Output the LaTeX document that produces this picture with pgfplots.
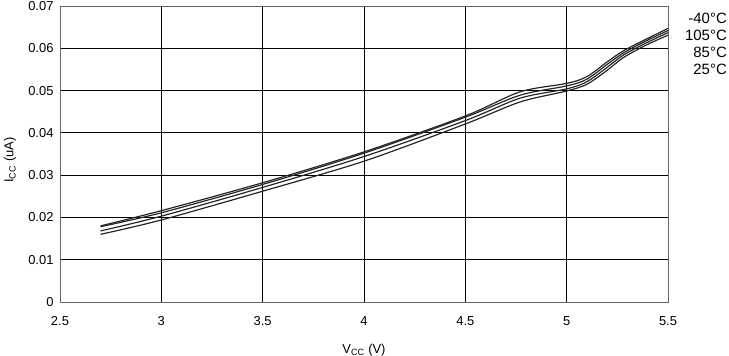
\documentclass[border=0pt]{standalone}
\usepackage{pgfplots}
\pgfplotsset{compat=1.18}
\usepackage{fontspec}
\setmainfont{Liberation Sans}
\begin{document}
\begin{tikzpicture}
\useasboundingbox (-60bp,-54bp) rectangle (669bp,302bp);
\begin{axis}[
  at={(0,0)}, anchor=south west,
  scale only axis, width=608bp, height=296bp,
  xmin=2.5, xmax=5.5, ymin=0, ymax=0.07,
  xtick={2.5,3,3.5,4,4.5,5,5.5},
  ytick={0,0.01,0.02,0.03,0.04,0.05,0.06,0.07},
  scaled y ticks=false,
  grid=major,
  major grid style={black, line width=0.8pt},
  axis line style={gray!80!black, line width=1pt},
  major tick length=0pt,
  tick label style={font=\fontsize{13}{15}\selectfont},
  /pgf/number format/assume math mode=true,
  yticklabel style={/pgf/number format/fixed, /pgf/number format/precision=2, xshift=-3bp},
  xticklabel style={yshift=-11bp},
  clip=false,
]
\pgfplotsset{cur/.style={black!85, line width=1.2pt, no markers, smooth, tension=0.5}}
\addplot[cur] coordinates {(2.7,0.0180)(3.0,0.0216)(3.5,0.0282)(4.0,0.0355)(4.5,0.0440)(4.77,0.0497)(5.0,0.0517)(5.1,0.0533)(5.2,0.0568)(5.28,0.0594)(5.39,0.0621)(5.5,0.0647)};
\addplot[cur] coordinates {(2.7,0.0178)(3.0,0.0211)(3.5,0.0278)(4.0,0.0352)(4.5,0.0437)(4.77,0.0489)(5.0,0.0511)(5.1,0.0527)(5.2,0.0562)(5.28,0.0589)(5.39,0.0617)(5.5,0.0642)};
\addplot[cur] coordinates {(2.7,0.0168)(3.0,0.0203)(3.5,0.0271)(4.0,0.0344)(4.5,0.0429)(4.77,0.0482)(5.0,0.0504)(5.1,0.0521)(5.2,0.0555)(5.28,0.0584)(5.39,0.0612)(5.5,0.0637)};
\addplot[cur] coordinates {(2.7,0.0160)(3.0,0.0194)(3.5,0.0262)(4.0,0.0333)(4.5,0.0421)(4.77,0.0473)(5.0,0.0499)(5.1,0.0515)(5.2,0.0548)(5.28,0.0578)(5.39,0.0607)(5.5,0.0631)};
\end{axis}
\node[font=\fontsize{13}{15}\selectfont, rotate=90, inner sep=0pt] at (-50bp,142bp) {I\textsubscript{CC} (uA)};
\node[font=\fontsize{13}{15}\selectfont, inner sep=0pt] at (304bp,-48bp) {V\textsubscript{CC} (V)};
\begin{scope}[every node/.style={anchor=east, inner sep=0pt, font=\fontsize{15}{17}\selectfont}]
\node at (667bp,284bp) {-40°C};
\node at (667bp,267bp) {105°C};
\node at (667bp,250bp) {85°C};
\node at (667bp,233bp) {25°C};
\end{scope}
\end{tikzpicture}
\end{document}
